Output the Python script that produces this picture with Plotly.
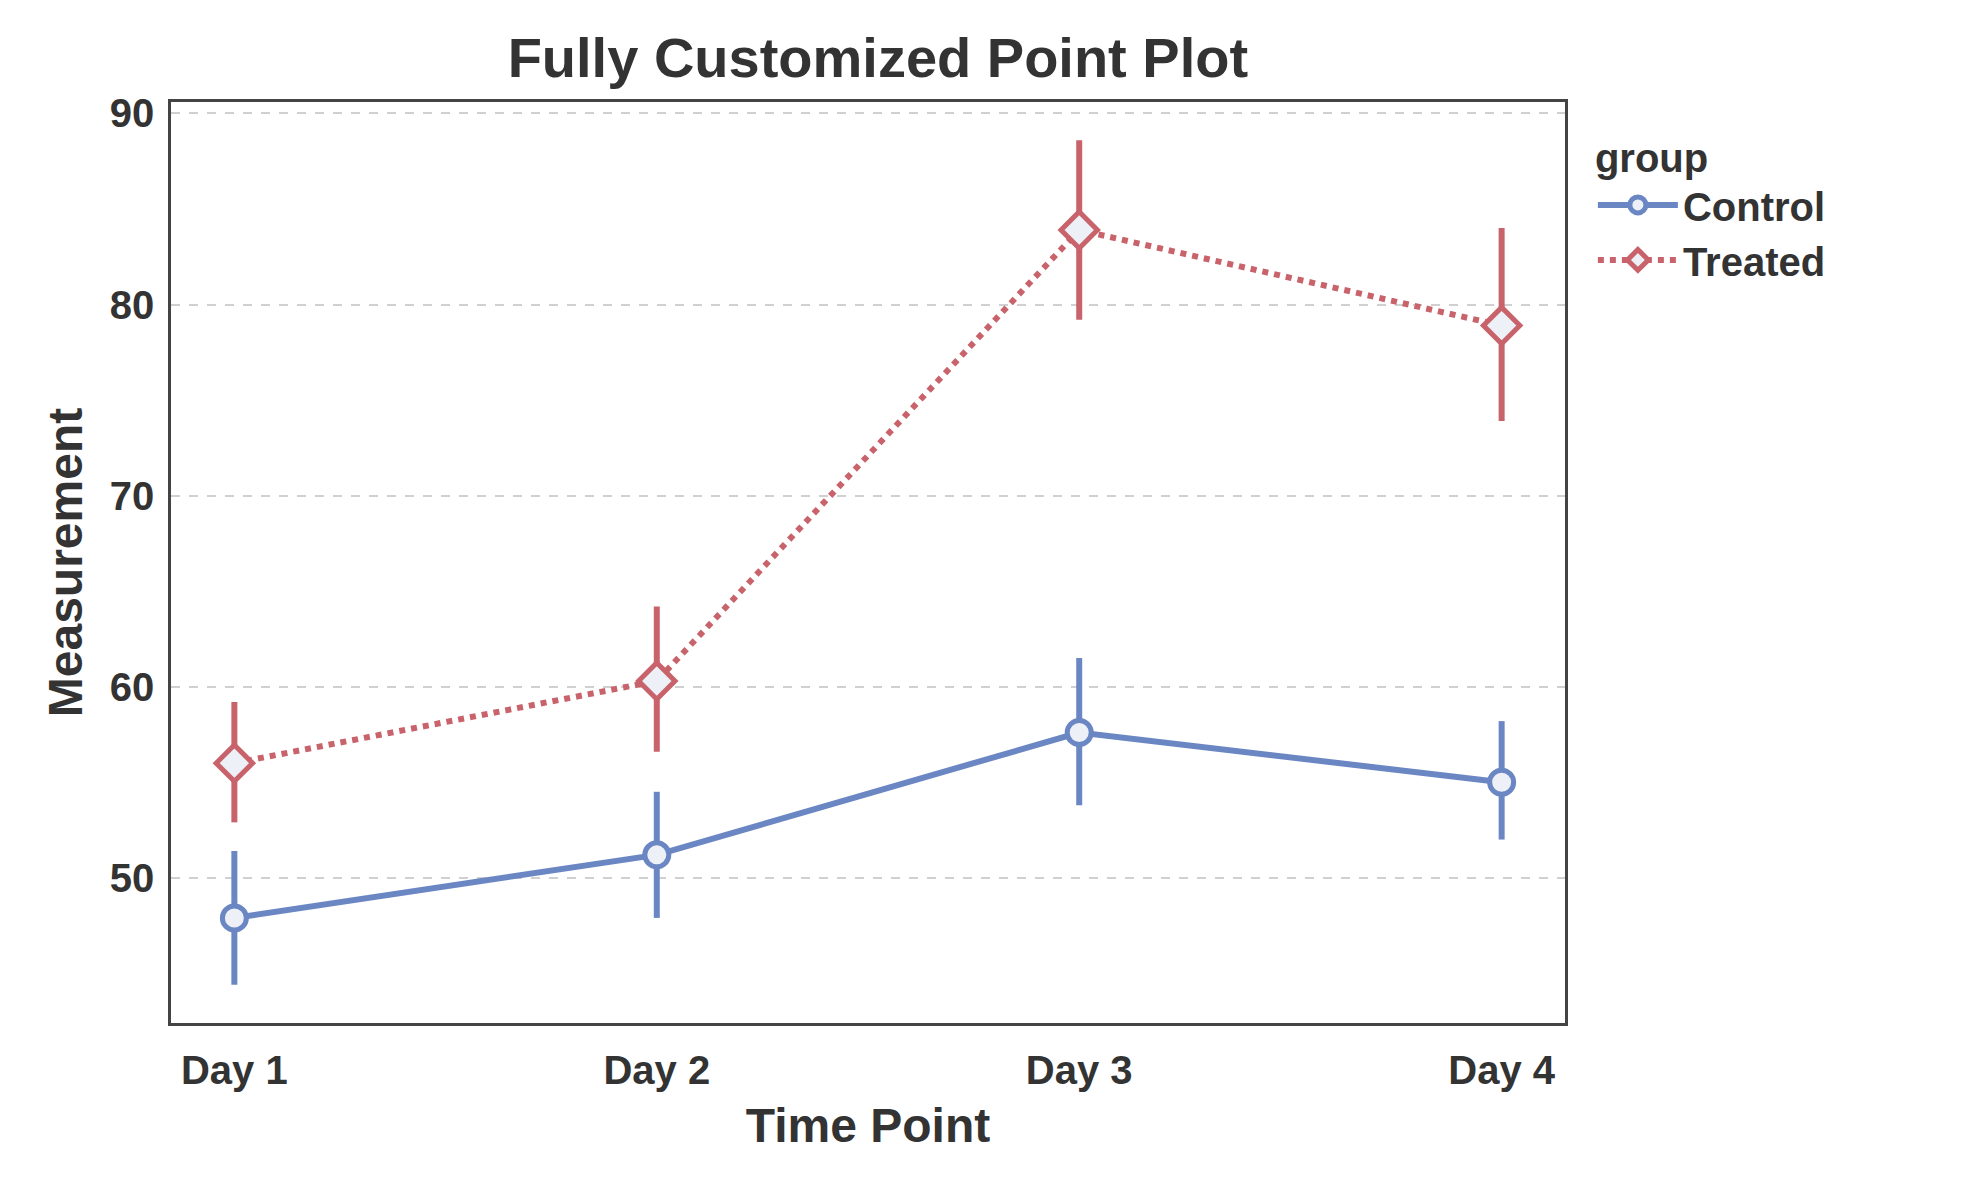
import plotly.graph_objects as go

days = ["Day 1", "Day 2", "Day 3", "Day 4"]
control_mean = [47.9, 51.2, 57.6, 55.0]
control_lo = [44.4, 47.9, 53.8, 52.0]
control_hi = [51.4, 54.5, 61.5, 58.2]
treated_mean = [56.0, 60.3, 83.9, 78.9]
treated_lo = [52.9, 56.6, 79.2, 73.9]
treated_hi = [59.2, 64.2, 88.6, 84.0]

BLUE = "#6a87c4"
RED = "#c8636b"
FONT = "Liberation Sans"

fig = go.Figure()


def add_group(name, mean, lo, hi, color, dash, symbol, size):
    fig.add_trace(go.Scatter(
        x=days, y=mean, name=name, mode="lines+markers",
        line=dict(color=color, width=6, dash=dash),
        marker=dict(symbol=symbol, size=size, color="#eef0f8",
                    line=dict(color=color, width=5)),
        error_y=dict(type="data", symmetric=False,
                     array=[h - m for h, m in zip(hi, mean)],
                     arrayminus=[m - l for m, l in zip(mean, lo)],
                     color=color, thickness=6, width=0),
    ))


add_group("Control", control_mean, control_lo, control_hi, BLUE, "solid", "circle", 24)
add_group("Treated", treated_mean, treated_lo, treated_hi, RED, "dot", "diamond", 28)

fig.update_layout(
    width=1977, height=1186,
    paper_bgcolor="white", plot_bgcolor="white",
    font=dict(family=FONT, color="#333333", size=38, weight="bold"),
    title=dict(text="Fully Customized Point Plot", x=0.44, xanchor="center",
               y=0.975, font=dict(size=56, weight="bold")),
    margin=dict(l=163, r=420, t=94, b=171),
    legend=dict(title=dict(text="group", font=dict(size=40, weight="bold")),
                x=1.02, y=0.98, xanchor="left", yanchor="top",
                font=dict(size=40, weight="bold"), itemwidth=80, tracegroupgap=0),
)
fig.update_xaxes(
    range=[-0.15, 3.15], showgrid=False, showline=True, mirror=True,
    linecolor="#444444", linewidth=2.5, ticks="",
    tickfont=dict(size=40, weight="bold"), ticklabelstandoff=10,
    title=dict(text="Time Point", font=dict(size=48, weight="bold"), standoff=18),
)
fig.update_yaxes(
    range=[42.4, 90.6], tickvals=[50, 60, 70, 80, 90],
    showgrid=True, gridcolor="#d0d0d0", griddash="dash", gridwidth=2,
    showline=True, mirror=True, linecolor="#444444", linewidth=2.5,
    tickfont=dict(size=40, weight="bold"), ticks="", zeroline=False,
    ticklabelstandoff=6,
    title=dict(text="Measurement", font=dict(size=48, weight="bold"), standoff=12),
)

fig.write_html("out.html")
